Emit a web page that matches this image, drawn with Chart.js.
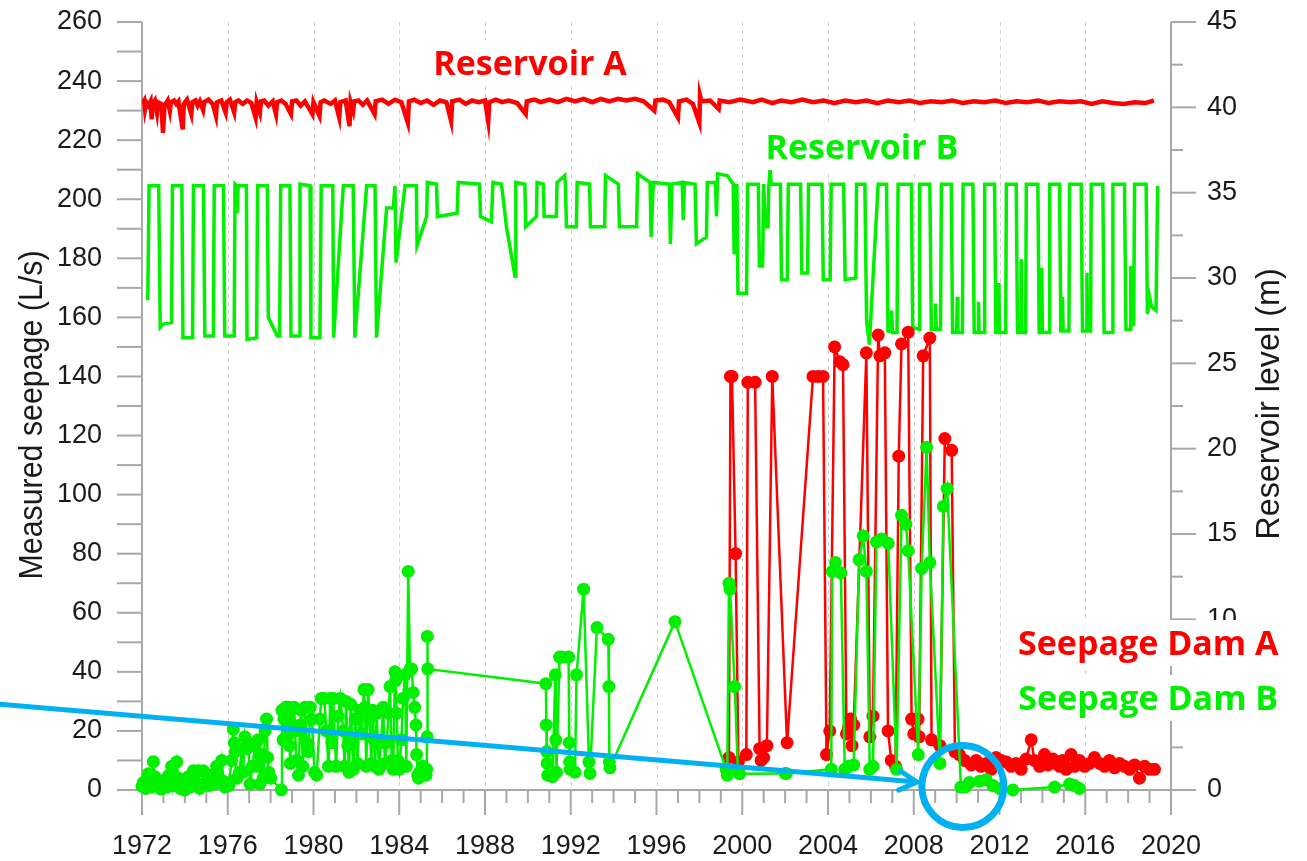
<!DOCTYPE html>
<html><head><meta charset="utf-8">
<script src="https://cdn.jsdelivr.net/npm/chart.js@4/dist/chart.umd.min.js"></script>
<style>html,body{margin:0;padding:0;background:#fff;}canvas{display:block;}</style>
</head><body>
<canvas id="c" width="1307" height="861"></canvas>
<script>
// ---------- tick labels ----------
const xTickLabels = [1972,1976,1980,1984,1988,1992,1996,2000,2004,2008,2012,2016,2020];
const leftTickLabels = [0,20,40,60,80,100,120,140,160,180,200,220,240,260];
const rightTickLabels = [0,5,10,15,20,25,30,35,40,45];

// ---------- Reservoir A level (m) ----------
const reservoirA = [
[1972.0,40.2],[1972.1,40.4],[1972.14,39.9],[1972.2,40.3],[1972.3,40.1],[1972.4,40.35],[1972.45,39.3],[1972.5,40.2],[1972.6,40.4],[1972.7,39.7],[1972.75,40.3],[1972.9,40.2],[1972.98,38.5],[1973.05,40.1],[1973.2,40.4],[1973.3,39.8],[1973.35,40.3],[1973.5,40.4],[1973.6,40.2],[1973.7,40.35],[1973.9,38.7],[1973.95,40.2],[1974.1,40.45],[1974.3,39.6],[1974.35,40.3],[1974.5,40.4],[1974.6,40.1],[1974.7,40.35],[1974.85,39.85],[1974.9,40.3],[1975.1,40.45],[1975.3,40.2],[1975.45,39.5],[1975.5,40.3],[1975.7,40.4],[1975.9,39.7],[1975.95,40.3],[1976.1,40.45],[1976.3,39.7],[1976.35,40.3],[1976.5,40.4],[1976.7,40.2],[1976.9,40.4],[1977.1,40.25],[1977.3,39.4],[1977.35,40.3],[1977.5,39.7],[1977.55,40.35],[1977.7,40.4],[1977.9,40.1],[1978.1,40.35],[1978.25,39.6],[1978.3,40.3],[1978.5,40.4],[1978.7,40.2],[1978.95,39.6],[1979.0,40.35],[1979.2,40.4],[1979.4,40.1],[1979.6,40.35],[1979.95,39.6],[1980.0,40.3],[1980.28,39.5],[1980.33,40.3],[1980.5,40.4],[1980.8,40.2],[1981.0,40.4],[1981.2,39.4],[1981.25,40.3],[1981.5,40.4],[1981.68,38.9],[1981.73,40.3],[1981.85,39.8],[1981.9,40.35],[1982.1,40.4],[1982.3,40.15],[1982.5,40.4],[1982.85,39.6],[1982.9,40.35],[1983.2,40.45],[1983.5,40.2],[1983.8,40.45],[1984.1,40.3],[1984.4,39.1],[1984.45,40.35],[1984.7,40.45],[1985.0,40.25],[1985.3,40.4],[1985.6,40.15],[1985.9,40.4],[1986.2,40.3],[1986.42,39.2],[1986.47,40.35],[1986.8,40.45],[1987.1,40.2],[1987.4,40.4],[1987.7,40.3],[1988.0,40.4],[1988.15,39.2],[1988.2,40.3],[1988.5,40.45],[1988.8,40.3],[1989.1,40.4],[1989.5,40.25],[1989.9,39.6],[1989.95,40.35],[1990.3,40.45],[1990.6,40.3],[1991.0,40.45],[1991.4,40.3],[1991.8,40.5],[1992.2,40.35],[1992.6,40.5],[1993.0,40.3],[1993.4,40.5],[1993.8,40.35],[1994.2,40.5],[1994.6,40.4],[1995.0,40.5],[1995.4,40.35],[1995.9,39.8],[1995.95,40.4],[1996.3,40.45],[1996.6,40.3],[1997.0,39.4],[1997.05,40.35],[1997.4,40.45],[1997.7,40.2],[1998.0,39.1],[1998.03,40.7],[1998.1,40.35],[1998.5,40.4],[1998.9,39.9],[1998.95,40.4],[1999.4,40.3],[1999.9,40.45],[2000.5,40.3],[2000.9,40.45],[2001.4,40.25],[2001.8,40.4],[2002.3,40.3],[2002.8,40.45],[2003.3,40.3],[2003.8,40.4],[2004.3,40.25],[2004.8,40.4],[2005.3,40.3],[2005.8,40.4],[2006.3,40.25],[2006.8,40.4],[2007.3,40.3],[2007.8,40.4],[2008.3,40.25],[2008.8,40.35],[2009.3,40.3],[2009.8,40.4],[2010.3,40.25],[2010.8,40.35],[2011.3,40.3],[2011.8,40.4],[2012.3,40.25],[2012.8,40.35],[2013.3,40.3],[2013.8,40.4],[2014.3,40.25],[2014.8,40.35],[2015.3,40.3],[2015.8,40.35],[2016.3,40.2],[2016.8,40.35],[2017.3,40.25],[2017.8,40.2],[2018.3,40.3],[2018.8,40.25],[2019.2,40.4]
];

// ---------- Reservoir B level (m) ----------
const reservoirB = [
[1972.27,28.7],[1972.33,35.4],[1972.78,35.4],[1972.85,27.1],[1973.0,27.3],[1973.38,27.4],[1973.42,35.4],[1973.86,35.4],[1973.91,26.5],[1974.36,26.5],[1974.4,35.4],[1974.87,35.4],[1974.93,26.6],[1975.33,26.6],[1975.37,35.4],[1975.8,35.4],[1975.86,26.6],[1976.3,26.6],[1976.34,35.5],[1976.42,35.4],[1976.45,33.8],[1976.48,35.4],[1976.87,35.4],[1976.9,26.4],[1977.35,26.5],[1977.39,35.4],[1977.85,35.4],[1977.89,27.7],[1978.31,26.6],[1978.42,26.6],[1978.47,35.4],[1978.9,35.4],[1978.95,26.6],[1979.33,26.6],[1979.37,35.5],[1979.84,35.4],[1979.88,26.5],[1980.3,26.5],[1980.36,35.4],[1980.9,35.4],[1980.94,26.5],[1981.39,35.4],[1981.85,35.4],[1981.93,26.5],[1982.48,35.4],[1982.87,35.4],[1982.94,26.5],[1983.41,34.1],[1983.72,34.1],[1983.8,35.4],[1983.85,30.9],[1984.27,35.4],[1984.8,35.4],[1984.83,31.9],[1985.28,33.6],[1985.31,35.6],[1985.74,35.5],[1985.78,33.6],[1986.7,33.8],[1986.75,35.6],[1987.75,35.5],[1987.79,33.6],[1988.3,33.3],[1988.37,35.6],[1988.77,35.5],[1989.0,33.0],[1989.4,30.1],[1989.44,35.6],[1989.86,35.5],[1989.9,33.0],[1990.4,33.6],[1990.43,35.6],[1990.72,35.5],[1990.76,33.6],[1991.33,33.6],[1991.36,35.6],[1991.72,36.0],[1991.75,35.5],[1991.8,33.0],[1992.26,33.0],[1992.3,35.6],[1992.88,35.5],[1992.92,33.0],[1993.58,33.0],[1993.62,36.0],[1994.22,35.5],[1994.27,33.0],[1995.07,33.0],[1995.12,36.1],[1995.7,35.6],[1995.75,32.4],[1995.85,35.6],[1996.6,35.5],[1996.65,32.0],[1996.72,35.5],[1997.2,35.6],[1997.25,33.4],[1997.3,35.6],[1997.8,35.5],[1997.86,32.0],[1998.33,32.4],[1998.37,35.6],[1998.75,35.6],[1998.8,33.6],[1998.85,36.1],[1999.3,36.0],[1999.58,35.5],[1999.62,31.5],[1999.66,35.4],[1999.75,35.4],[1999.8,29.1],[2000.2,29.1],[2000.25,35.5],[2000.75,35.5],[2000.8,30.7],[2000.95,30.7],[2001.0,35.5],[2001.08,33.0],[2001.2,33.0],[2001.24,35.4],[2001.3,36.4],[2001.35,35.5],[2001.78,35.5],[2001.83,29.9],[2002.1,29.9],[2002.15,35.5],[2002.72,35.5],[2002.78,30.3],[2003.05,30.3],[2003.09,35.5],[2003.72,35.5],[2003.78,29.9],[2004.1,29.9],[2004.15,35.5],[2004.73,35.5],[2004.8,29.9],[2005.3,30.0],[2005.33,35.5],[2005.72,35.5],[2005.8,27.5],[2005.93,26.1],[2006.34,35.5],[2006.73,35.5],[2006.8,26.9],[2006.95,26.9],[2006.97,28.1],[2007.0,26.8],[2007.22,26.8],[2007.27,35.5],[2007.89,35.5],[2007.95,27.1],[2008.25,27.0],[2008.28,35.5],[2008.75,35.5],[2008.82,27.0],[2009.0,27.0],[2009.02,28.5],[2009.05,27.0],[2009.25,27.0],[2009.29,35.5],[2009.75,35.5],[2009.81,26.8],[2010.0,26.8],[2010.03,28.9],[2010.06,26.8],[2010.27,26.8],[2010.3,35.5],[2010.76,35.5],[2010.82,26.8],[2011.0,26.8],[2011.02,28.6],[2011.05,26.8],[2011.28,26.8],[2011.31,35.5],[2011.77,35.5],[2011.83,26.8],[2011.95,26.8],[2011.97,29.7],[2012.0,26.8],[2012.29,26.8],[2012.32,35.5],[2012.78,35.5],[2012.84,26.8],[2013.0,26.8],[2013.02,31.1],[2013.05,26.8],[2013.22,26.8],[2013.25,35.5],[2013.79,35.5],[2013.85,26.8],[2013.95,26.8],[2013.97,30.6],[2014.0,26.8],[2014.31,26.8],[2014.34,35.5],[2014.8,35.5],[2014.86,26.9],[2014.92,26.9],[2014.94,28.9],[2014.97,26.9],[2015.24,26.9],[2015.27,35.5],[2015.81,35.5],[2015.87,26.9],[2016.05,26.9],[2016.08,30.3],[2016.1,26.9],[2016.25,26.9],[2016.28,35.5],[2016.82,35.5],[2016.88,26.8],[2017.26,26.8],[2017.29,35.5],[2017.83,35.5],[2017.9,27.0],[2018.1,27.0],[2018.12,30.7],[2018.15,27.2],[2018.26,27.3],[2018.3,35.5],[2018.84,35.5],[2018.9,27.9],[2019.0,28.9],[2019.1,28.3],[2019.3,28.1],[2019.38,35.4]
];

// ---------- Seepage Dam A (L/s) ----------
const seepageA = [
[1999.38,11],[1999.45,140],[1999.52,140],[1999.69,80],[1999.82,9.5],[2000.19,12],[2000.26,138],[2000.6,138],[2000.81,14],[2000.88,10],[2001.0,11],[2001.15,15],[2001.4,140],[2002.09,16],[2003.3,140],[2003.54,140],[2003.77,140],[2003.93,12],[2004.08,20],[2004.31,150],[2004.55,145],[2004.7,144],[2004.86,19],[2004.95,21],[2005.05,24],[2005.12,15],[2005.2,22],[2005.79,148],[2005.95,18],[2006.1,25],[2006.34,154],[2006.42,147],[2006.65,148],[2006.8,20],[2006.95,10],[2007.15,8],[2007.3,113],[2007.43,151],[2007.74,155],[2007.9,24],[2008.0,19],[2008.2,24],[2008.25,18],[2008.44,147],[2008.75,153],[2008.83,17],[2009.22,15],[2009.45,119],[2009.77,115],[2009.92,13],[2010.13,12],[2010.37,10],[2010.68,8.5],[2010.91,10],[2011.14,8],[2011.38,9],[2011.61,7],[2011.84,11],[2012.08,10],[2012.31,9.5],[2012.54,8],[2012.78,9],[2013.01,7],[2013.24,10.5],[2013.48,17],[2013.63,10],[2013.87,8],[2014.1,12],[2014.26,8.5],[2014.49,10.5],[2014.64,9],[2014.8,8],[2014.95,10],[2015.11,7],[2015.34,12],[2015.5,8],[2015.73,10],[2015.97,8],[2016.2,9],[2016.43,11],[2016.67,9],[2016.9,8],[2017.13,10],[2017.37,7.5],[2017.6,9],[2017.83,8],[2018.07,7],[2018.3,8.5],[2018.53,4],[2018.77,8],[2019.0,7],[2019.23,7]
];

// ---------- Seepage Dam B (L/s) ----------
const seepageB = [
[1972.0,1.2],[1972.06,2.5],[1972.18,0.5],[1972.29,5.5],[1972.35,3],[1972.45,1],[1972.53,9.6],[1972.6,4.5],[1972.7,1.5],[1972.84,2.5],[1972.9,0.3],[1973.07,3.5],[1973.15,1],[1973.25,5],[1973.38,8],[1973.45,1.5],[1973.62,9.5],[1973.7,4],[1973.78,0.5],[1973.85,3],[1974.0,0],[1974.16,4.5],[1974.25,1],[1974.39,6.5],[1974.5,2],[1974.63,6.5],[1974.7,0.5],[1974.86,6.5],[1975.0,3],[1975.12,1.5],[1975.25,5],[1975.35,2],[1975.48,8],[1975.6,4],[1975.72,10],[1975.8,3],[1975.87,1],[1976.05,1.5],[1976.18,10],[1976.26,20.5],[1976.3,16],[1976.35,13],[1976.42,4],[1976.55,6],[1976.65,14],[1976.72,6],[1976.8,18],[1976.9,14],[1976.96,16],[1977.04,2],[1977.15,8],[1977.27,15],[1977.35,8],[1977.42,17],[1977.5,2],[1977.58,12],[1977.66,4],[1977.74,20],[1977.81,24],[1977.86,11],[1977.92,6],[1978.0,4],[1978.5,0],[1978.53,27],[1978.58,17],[1978.62,24],[1978.7,28],[1978.76,18],[1978.83,28],[1978.88,15],[1978.92,9],[1978.97,27],[1979.03,22],[1979.1,28],[1979.14,20],[1979.2,10],[1979.3,5],[1979.37,22],[1979.43,27],[1979.5,8],[1979.6,28],[1979.68,16],[1979.76,13],[1979.85,28],[1979.92,24],[1980.05,6],[1980.15,5],[1980.3,24],[1980.36,31],[1980.5,31],[1980.6,20],[1980.7,8],[1980.78,31],[1980.85,16],[1980.92,31],[1981.05,8],[1981.15,25],[1981.25,31],[1981.39,20],[1981.45,8],[1981.52,30],[1981.6,15],[1981.66,6],[1981.74,29],[1981.8,17],[1981.86,7],[1981.95,24],[1982.05,9],[1982.15,27],[1982.25,19],[1982.35,34],[1982.4,28],[1982.46,8],[1982.55,34],[1982.62,24],[1982.7,9],[1982.76,27],[1982.82,17],[1982.87,8],[1982.95,26],[1983.05,7],[1983.15,16],[1983.25,28],[1983.33,9],[1983.42,16],[1983.5,26],[1983.57,35],[1983.65,10],[1983.72,7],[1983.8,40],[1983.83,37],[1983.88,26],[1983.94,10],[1984.0,7],[1984.1,17],[1984.18,31],[1984.27,39],[1984.33,8],[1984.42,74],[1984.5,41],[1984.58,41],[1984.65,33],[1984.72,28],[1984.78,22],[1984.81,12],[1984.86,5],[1984.9,4],[1984.95,6],[1985.1,8],[1985.25,5],[1985.28,7],[1985.3,18],[1985.31,52],[1985.33,41],
[1990.84,36],[1990.86,22],[1990.88,13],[1990.9,9],[1990.93,5],[1991.15,4.5],[1991.28,39],[1991.3,17],[1991.33,6],[1991.48,45],[1991.6,45],[1991.9,45],[1991.93,16],[1991.95,9.5],[1991.98,7],[1992.2,6],[1992.27,39],[1992.6,68],[1992.85,9.5],[1992.9,5.6],[1993.22,55],[1993.75,51],[1993.78,35],[1993.8,9.5],[1993.83,7.5],[1996.86,57],
[1999.25,7],[1999.3,5],[1999.38,70],[1999.43,68],[1999.65,35],[1999.8,6],[1999.88,5.5],[2002.0,5.6],[2002.06,5.6],[2004.15,7],[2004.2,74],[2004.35,77],[2004.6,73.5],[2004.78,7],[2004.95,8],[2005.2,8.5],[2005.45,78],[2005.64,86],[2005.79,74],[2005.95,7],[2006.1,8],[2006.26,84],[2006.5,85],[2006.81,83.5],[2007.2,7],[2007.43,93],[2007.63,90],[2007.74,81],[2008.21,12],[2008.37,75],[2008.6,116],[2008.75,77],[2009.22,9],[2009.38,96],[2009.56,102],[2010.2,1],[2010.4,1],[2010.6,2.5],[2011.07,3],[2011.38,3.5],[2011.69,1.5],[2012.0,0.5],[2012.62,0],[2014.57,1],[2015.27,2],[2015.5,1.5],[2015.73,0.5]
];

// ---------- annotations (data units) ----------
const arrowLine = [[1965.28, 29.1],[2008.15, 2.7]];
const circleCenter = [2010.29, 1.2];
const textLabels = [
  {text:'Reservoir A', x:1990.1, y:242.0, color:'#ff0000'},
  {text:'Reservoir B', x:2005.58, y:213.6, color:'#00f000'},
  {text:'Seepage Dam A', x:2018.94, y:45.7, color:'#ff0000'},
  {text:'Seepage Dam B', x:2018.94, y:27.1, color:'#00f000'}
];

const RED = '#ff0000', GREEN = '#00f000', BLUE = '#00b0f0';
const AXIS = '#a8a8a8', GRID = '#cfcfcf', TXT = '#1a1a1a';
const toXY = arr => arr.map(p => ({x:p[0], y:p[1]}));

const decor = {
  id: 'decor',
  beforeDatasetsDraw(chart) {
    const {ctx, chartArea:a, scales:{x, y, y2}} = chart;
    const line = (x1,y1,x2,y2_) => { ctx.beginPath(); ctx.moveTo(x1,y1); ctx.lineTo(x2,y2_); ctx.stroke(); };
    ctx.save();
    ctx.strokeStyle = GRID; ctx.lineWidth = 1; ctx.setLineDash([4,4]);
    xTickLabels.forEach(t => { if (t > 1972 && t < 2020) { const px = Math.round(x.getPixelForValue(t)) + 0.5; line(px, a.top, px, a.bottom); } });
    ctx.setLineDash([]);
    ctx.strokeStyle = AXIS; ctx.lineWidth = 2;
    line(a.left, a.top, a.left, a.bottom);
    line(a.right, a.top, a.right, a.bottom);
    line(a.left, a.bottom, a.right, a.bottom);
    for (let v = 0; v <= 260; v += 10) { const py = y.getPixelForValue(v); line(a.left - 25, py, a.left, py); }
    for (let v = 0; v <= 45; v += 2.5) { const py = y2.getPixelForValue(v); line(a.right, py, a.right + (v % 5 === 0 ? 25 : 12), py); }
    for (let yr = 1972; yr <= 2020; yr++) { const px = x.getPixelForValue(yr); line(px, a.bottom, px, a.bottom + ((yr - 1972) % 4 === 0 ? 25 : 13)); }
    ctx.restore();
  },
  afterDraw(chart) {
    const {ctx, chartArea:a, scales:{x, y}} = chart;
    ctx.save();
    // arrow
    const sx = x.getPixelForValue(arrowLine[0][0]), sy = y.getPixelForValue(arrowLine[0][1]);
    const tx = x.getPixelForValue(arrowLine[1][0]), ty = y.getPixelForValue(arrowLine[1][1]);
    ctx.strokeStyle = BLUE; ctx.lineWidth = 5; ctx.lineCap = 'round';
    ctx.beginPath(); ctx.moveTo(sx, sy); ctx.lineTo(tx, ty); ctx.stroke();
    const ang = Math.atan2(ty - sy, tx - sx), L = 20, w = 0.5;
    ctx.beginPath();
    ctx.moveTo(tx - L*Math.cos(ang - w), ty - L*Math.sin(ang - w));
    ctx.lineTo(tx, ty);
    ctx.lineTo(tx - L*Math.cos(ang + w), ty - L*Math.sin(ang + w));
    ctx.stroke();
    // circle
    ctx.lineWidth = 7;
    ctx.beginPath(); ctx.arc(x.getPixelForValue(circleCenter[0]), y.getPixelForValue(circleCenter[1]), 41, 0, Math.PI*2); ctx.stroke();
    // labels on white boxes
    ctx.font = 'bold 34px "Open Sans"'; ctx.textAlign = 'center'; ctx.textBaseline = 'alphabetic';
    textLabels.forEach(l => {
      const px = x.getPixelForValue(l.x), py = y.getPixelForValue(l.y);
      const tw = ctx.measureText(l.text).width;
      ctx.fillStyle = '#fff'; ctx.fillRect(px - tw/2 - 5, py - 35, tw + 10, 46);
      ctx.fillStyle = l.color; ctx.fillText(l.text, px, py);
    });
    // axis titles
    const vt = (text, cx, cy, sc) => {
      ctx.save(); ctx.translate(cx, cy); ctx.rotate(-Math.PI/2); ctx.scale(sc, 1);
      ctx.font = '33px "Liberation Sans", Arial, sans-serif'; ctx.fillStyle = TXT;
      ctx.textAlign = 'center'; ctx.textBaseline = 'middle'; ctx.fillText(text, 0, 0); ctx.restore();
    };
    vt('Measured seepage (L/s)', a.left - 109, (a.top + a.bottom)/2 + 9, 0.92);
    vt('Reservoir level (m)', a.right + 99, (a.top + a.bottom)/2 - 2, 0.98);
    ctx.restore();
  }
};

const tickFont = {family: '"Liberation Sans", Arial, sans-serif', size: 27};

new Chart(document.getElementById('c'), {
  type: 'line',
  data: {
    datasets: [
      {label:'Seepage Dam B', data: toXY(seepageB), yAxisID:'y', borderColor: GREEN, backgroundColor: GREEN, pointBackgroundColor: GREEN, pointBorderWidth: 0, pointRadius: 6.5, borderWidth: 2.5, clip: false},
      {label:'Seepage Dam A', data: toXY(seepageA), yAxisID:'y', borderColor: RED, backgroundColor: RED, pointBackgroundColor: RED, pointBorderWidth: 0, pointRadius: 6.5, borderWidth: 2.5, clip: false},
      {label:'Reservoir A', data: toXY(reservoirA), yAxisID:'y2', borderColor: RED, borderWidth: 4.5, pointRadius: 0},
      {label:'Reservoir B', data: toXY(reservoirB), yAxisID:'y2', borderColor: GREEN, borderWidth: 3.5, pointRadius: 0}
    ]
  },
  options: {
    responsive: false, animation: false, devicePixelRatio: 1,
    events: [],
    layout: {padding: {top: 22, left: 0, right: 0, bottom: 0}},
    plugins: {legend: {display: false}, tooltip: {enabled: false}},
    scales: {
      x: {type: 'linear', min: 1972, max: 2020,
          grid: {display: false, drawTicks: true, tickLength: 37}, border: {display: false},
          ticks: {stepSize: 4, autoSkip: false, maxRotation: 0, font: tickFont, color: TXT, padding: 3,
                  callback: v => xTickLabels.includes(v) ? String(v) : ''},
          afterFit: s => { s.height = 71; }},
      y: {position: 'left', min: 0, max: 260,
          grid: {display: false, drawTicks: true, tickLength: 37}, border: {display: false},
          ticks: {stepSize: 20, font: tickFont, color: TXT, padding: 3,
                  callback: v => leftTickLabels.includes(v) ? String(v) : ''},
          afterFit: s => { s.width = 142; }},
      y2: {position: 'right', min: 0, max: 45,
          grid: {display: false, drawTicks: true, tickLength: 33}, border: {display: false},
          ticks: {stepSize: 5, font: tickFont, color: TXT, padding: 3,
                  callback: v => rightTickLabels.includes(v) ? String(v) : ''},
          afterFit: s => { s.width = 136; }}
    }
  },
  plugins: [decor]
});
</script>
</body></html>
